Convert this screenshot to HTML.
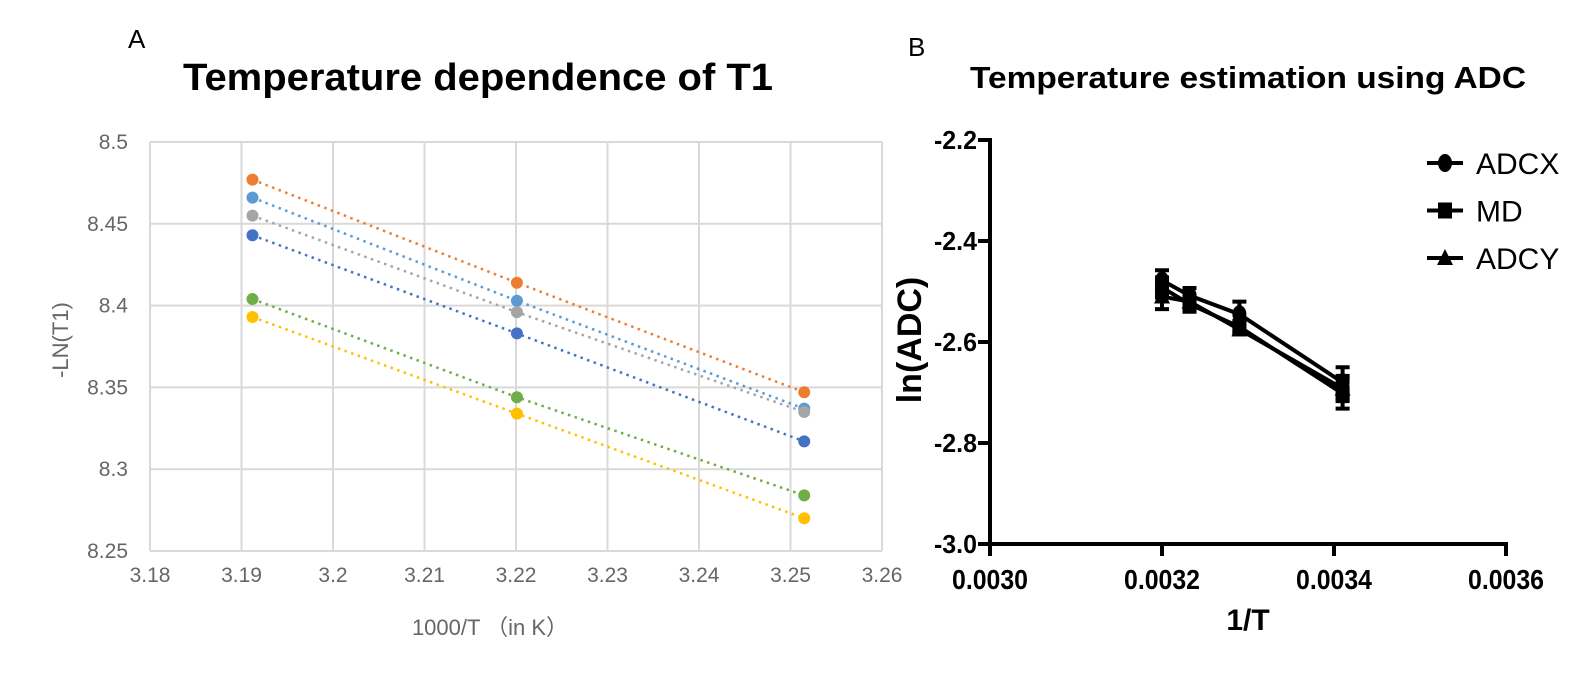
<!DOCTYPE html>
<html><head><meta charset="utf-8"><style>
html,body{margin:0;padding:0;background:#fff;}
svg{display:block;font-family:"Liberation Sans","Noto Sans CJK SC",sans-serif;}
</style></head><body>
<svg id="s" width="1590" height="692" viewBox="0 0 1590 692">
<text x="128" y="48" font-size="26" fill="#000">A</text>
<text x="478" y="90" font-size="38" font-weight="bold" text-anchor="middle" fill="#000" textLength="590" lengthAdjust="spacingAndGlyphs">Temperature dependence of T1</text>
<g id="ga"></g>
<text x="68" y="340" font-size="22" fill="#666" text-anchor="middle" transform="rotate(-90 68 340)">-LN(T1)</text>
<text x="490" y="635" font-size="22" fill="#666" text-anchor="middle">1000/T （in K）</text>

<text x="908" y="56" font-size="26" fill="#000">B</text>
<text x="1248" y="88" font-size="31" font-weight="bold" text-anchor="middle" fill="#000" textLength="556" lengthAdjust="spacingAndGlyphs">Temperature estimation using ADC</text>
<g id="gb"></g>
<text x="921" y="340" font-size="34" font-weight="bold" text-anchor="middle" transform="rotate(-90 921 340)">ln(ADC)</text>
<text x="1248" y="630" font-size="30" font-weight="bold" text-anchor="middle">1/T</text>
</svg>
<script>
// Chart A data
const aX = [3.1912, 3.2201, 3.2515];
const aOrange = [8.477, 8.414, 8.347];
const aLightBlue = [8.466, 8.403, 8.337];
const aGray = [8.455, 8.396, 8.335];
const aBlue = [8.443, 8.383, 8.317];
const aGreen = [8.404, 8.344, 8.284];
const aYellow = [8.393, 8.334, 8.270];
const aXTicks = ["3.18","3.19","3.2","3.21","3.22","3.23","3.24","3.25","3.26"];
const aYTicks = ["8.25","8.3","8.35","8.4","8.45","8.5"];
// Chart B data
const bX = [0.00320, 0.003232, 0.00329, 0.00341];
const bADCX = [-2.478, -2.508, -2.545, -2.680];
const bMD = [-2.492, -2.525, -2.570, -2.702];
const bADCY = [-2.510, -2.520, -2.575, -2.692];
const bErrADCX = [0.02, 0.015, 0.025, 0.03];
const bErrMD = [0.02, 0.015, 0.01, 0.03];
const bErrADCY = [0.025, 0.012, 0.01, 0.025];
const bXTicks = ["0.0030","0.0032","0.0034","0.0036"];
const bYTicks = ["-2.2","-2.4","-2.6","-2.8","-3.0"];

const NS="http://www.w3.org/2000/svg";
function mk(p,t,a){const e=document.createElementNS(NS,t);for(const k in a)e.setAttribute(k,a[k]);p.appendChild(e);return e;}

// Chart A
const ga=document.getElementById('ga');
const AL=150, AR=882, AT=142, AB=551;
const ax=v=>AL+(v-3.18)/0.08*(AR-AL);
const ay=v=>AT+(8.5-v)/0.25*(AB-AT);
aXTicks.forEach(t=>{const v=parseFloat(t);
 const l=mk(ga,'line',{x1:ax(v),x2:ax(v),y1:AT,y2:AB,stroke:'#d9d9d9','stroke-width':2});
 
 
 const tx=mk(ga,'text',{x:ax(v),y:582,'font-size':21,fill:'#666','text-anchor':'middle'});tx.textContent=t;
 
 
});
aYTicks.forEach(t=>{const v=parseFloat(t);
 const l=mk(ga,'line',{x1:AL,x2:AR,y1:ay(v),y2:ay(v),stroke:'#d9d9d9','stroke-width':2});
 
 
 const tx=mk(ga,'text',{x:128,y:ay(v)+7,'font-size':21,fill:'#666','text-anchor':'end'});tx.textContent=t;
 
 
});
[[aOrange,'#ed7d31'],[aLightBlue,'#5b9bd5'],[aGray,'#a5a5a5'],[aBlue,'#4472c4'],[aGreen,'#70ad47'],[aYellow,'#ffc000']].forEach(([s,c],i)=>{
 const pl=mk(ga,'polyline',{points:s.map((v,j)=>ax(aX[j])+','+ay(v)).join(' '),fill:'none',stroke:c,'stroke-width':2.5,'stroke-dasharray':'2.5 4.5'});
 
 
 s.forEach((v,j)=>{const c1=mk(ga,'circle',{cx:ax(aX[j]),cy:ay(v),r:6,fill:c});
  
  });
});

// Chart B
const gb=document.getElementById('gb');
const bx=v=>990+(v-0.0030)/0.0006*516;
const by=v=>140+(-2.2-v)/0.8*404;
mk(gb,'line',{x1:990,x2:990,y1:138,y2:546,stroke:'#000','stroke-width':4});
mk(gb,'line',{x1:988,x2:1508,y1:544,y2:544,stroke:'#000','stroke-width':4});
bXTicks.forEach(t=>{const v=parseFloat(t);
 const l=mk(gb,'line',{x1:bx(v),x2:bx(v),y1:544,y2:556,stroke:'#000','stroke-width':4});
 
 
 const tx=mk(gb,'text',{x:bx(v),y:589,'font-size':28,'font-weight':'bold','text-anchor':'middle',textLength:76,lengthAdjust:'spacingAndGlyphs'});tx.textContent=t;
 
 
});
bYTicks.forEach(t=>{const v=parseFloat(t);
 const l=mk(gb,'line',{x1:978,x2:990,y1:by(v),y2:by(v),stroke:'#000','stroke-width':4});
 
 
 const tx=mk(gb,'text',{x:977,y:by(v)+9,'font-size':26,'font-weight':'bold','text-anchor':'end',textLength:43,lengthAdjust:'spacingAndGlyphs'});tx.textContent=t;
 
 
});
function marker(g,type,x,y){
 if(type==='circle') return mk(g,'ellipse',{cx:x,cy:y,rx:7,ry:9,fill:'#000'});
 if(type==='square') return mk(g,'rect',{x:x-7,y:y-8,width:14,height:16,fill:'#000'});
 return mk(g,'polygon',{points:`${x},${y-9} ${x+8},${y+7} ${x-8},${y+7}`,fill:'#000'});
}
[[bADCX,bErrADCX,'circle','ADCX'],[bMD,bErrMD,'square','MD'],[bADCY,bErrADCY,'triangle','ADCY']].forEach(([s,e,m,name],i)=>{
 const pl=mk(gb,'polyline',{points:s.map((v,j)=>bx(bX[j])+','+by(v)).join(' '),fill:'none',stroke:'#000','stroke-width':4});
 
 
 s.forEach((v,j)=>{const x=bx(bX[j]);
  const eb=mk(gb,'path',{d:`M${x},${by(v+e[j])}V${by(v-e[j])}M${x-7},${by(v+e[j])}H${x+7}M${x-7},${by(v-e[j])}H${x+7}`,stroke:'#000','stroke-width':4,fill:'none'});
  
  
  const mm=marker(gb,m,x,by(v));
  
  
 });
 const ly=163+i*47.5;
 const ll=mk(gb,'line',{x1:1427,x2:1463,y1:ly,y2:ly,stroke:'#000','stroke-width':4});
 
 
 const lm=marker(gb,m,1445,ly);
 
 
 const lt=mk(gb,'text',{x:1476,y:ly+11,'font-size':30});lt.textContent=name;
 
 
});
</script>
</body></html>
